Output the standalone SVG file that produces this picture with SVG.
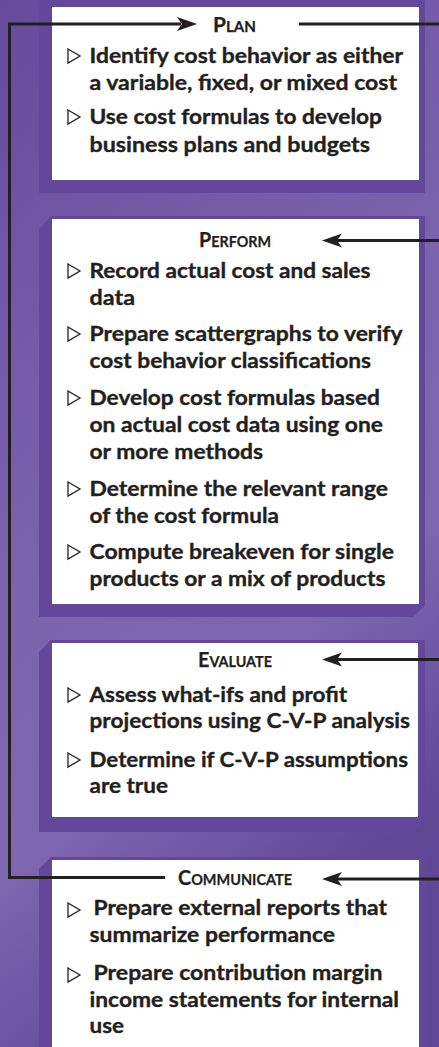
<svg xmlns="http://www.w3.org/2000/svg" xmlns:xlink="http://www.w3.org/1999/xlink" width="439" height="1047" viewBox="0 0 439 1047">
<style>
.frame{fill:#62479b}
.box{fill:#ffffff}
.hd{font-family:Lato,"Liberation Sans","DejaVu Sans",sans-serif;font-weight:700;fill:#231f20;stroke:#231f20;stroke-width:0.25;text-anchor:middle}
.tx{font-family:Lato,"Liberation Sans","DejaVu Sans",sans-serif;font-weight:700;font-size:21px;fill:#231f20;stroke:#231f20;stroke-width:0.35}
.ln{fill:none;stroke:#231f20;stroke-width:3}
.ah{fill:#231f20}
.big{font-size:20px}
.sm{font-size:14.5px}
</style>
<defs>
<linearGradient id="bg" x1="0" y1="0" x2="0.35" y2="1">
<stop offset="0" stop-color="#664a9c"/>
<stop offset="0.45" stop-color="#7a61ac"/>
<stop offset="0.75" stop-color="#7e67b0"/>
<stop offset="1" stop-color="#5f4796"/>
</linearGradient>
<polygon id="bul" points="0,0 12,7 0,14" fill="#ffffff" stroke="#231f20" stroke-width="1.3" stroke-linejoin="miter"/>
</defs>
<rect x="0" y="0" width="439" height="1047" fill="url(#bg)"/>

<g id="plan">
<rect class="frame" x="39" y="0" width="386" height="193"/>
<rect class="box" x="52" y="7" width="367" height="173"/>
<text class="hd" x="234.5" y="32" textLength="43" lengthAdjust="spacingAndGlyphs"><tspan class="big">P</tspan><tspan class="sm">LAN</tspan></text>
<use xlink:href="#bul" x="68" y="49"/>
<text class="tx" x="89.5" y="63" textLength="313.5" lengthAdjust="spacingAndGlyphs">Identify cost behavior as either</text>
<text class="tx" x="89.5" y="90" textLength="307.5" lengthAdjust="spacingAndGlyphs">a variable, fixed, or mixed cost</text>
<use xlink:href="#bul" x="68" y="110"/>
<text class="tx" x="89.5" y="124" textLength="292.5" lengthAdjust="spacingAndGlyphs">Use cost formulas to develop</text>
<text class="tx" x="89.5" y="152" textLength="280.5" lengthAdjust="spacingAndGlyphs">business plans and budgets</text>
</g>

<g id="perform">
<polygon class="frame" points="39,229 51,216 425,216 425,605 413,617 39,617"/>
<rect class="box" x="52" y="219" width="367" height="385"/>
<text class="hd" x="235" y="247" textLength="72" lengthAdjust="spacingAndGlyphs"><tspan class="big">P</tspan><tspan class="sm">ERFORM</tspan></text>
<use xlink:href="#bul" x="68" y="264"/>
<text class="tx" x="89.5" y="278" textLength="281" lengthAdjust="spacingAndGlyphs">Record actual cost and sales</text>
<text class="tx" x="89.5" y="305" textLength="45.5" lengthAdjust="spacingAndGlyphs">data</text>
<use xlink:href="#bul" x="68" y="327"/>
<text class="tx" x="89.5" y="341" textLength="313" lengthAdjust="spacingAndGlyphs">Prepare scattergraphs to verify</text>
<text class="tx" x="89.5" y="368" textLength="281.5" lengthAdjust="spacingAndGlyphs">cost behavior classifications</text>
<use xlink:href="#bul" x="68" y="391"/>
<text class="tx" x="89.5" y="405" textLength="290.5" lengthAdjust="spacingAndGlyphs">Develop cost formulas based</text>
<text class="tx" x="89.5" y="432" textLength="293.5" lengthAdjust="spacingAndGlyphs">on actual cost data using one</text>
<text class="tx" x="89.5" y="459" textLength="173.5" lengthAdjust="spacingAndGlyphs">or more methods</text>
<use xlink:href="#bul" x="68" y="482"/>
<text class="tx" x="89.5" y="496" textLength="298.5" lengthAdjust="spacingAndGlyphs">Determine the relevant range</text>
<text class="tx" x="89.5" y="523" textLength="189.5" lengthAdjust="spacingAndGlyphs">of the cost formula</text>
<use xlink:href="#bul" x="68" y="545"/>
<text class="tx" x="89.5" y="559" textLength="304.5" lengthAdjust="spacingAndGlyphs">Compute breakeven for single</text>
<text class="tx" x="89.5" y="586" textLength="296" lengthAdjust="spacingAndGlyphs">products or a mix of products</text>
</g>

<g id="evaluate">
<polygon class="frame" points="39,652 51,640 425,640 425,820 413,832 39,832"/>
<rect class="box" x="52" y="643" width="366" height="174"/>
<text class="hd" x="235" y="667" textLength="74" lengthAdjust="spacingAndGlyphs"><tspan class="big">E</tspan><tspan class="sm">VALUATE</tspan></text>
<use xlink:href="#bul" x="68" y="688"/>
<text class="tx" x="89.5" y="702" textLength="257.5" lengthAdjust="spacingAndGlyphs">Assess what-ifs and profit</text>
<text class="tx" x="89.5" y="728" textLength="320.5" lengthAdjust="spacingAndGlyphs">projections using C-V-P analysis</text>
<use xlink:href="#bul" x="68" y="753"/>
<text class="tx" x="89.5" y="767" textLength="318.5" lengthAdjust="spacingAndGlyphs">Determine if C-V-P assumptions</text>
<text class="tx" x="89.5" y="793" textLength="78.5" lengthAdjust="spacingAndGlyphs">are true</text>
</g>

<g id="communicate">
<polygon class="frame" points="39,869 51,857 425,857 425,1047 39,1047"/>
<rect class="box" x="52" y="860" width="367" height="187"/>
<text class="hd" x="235" y="885" textLength="114" lengthAdjust="spacingAndGlyphs"><tspan class="big">C</tspan><tspan class="sm">OMMUNICATE</tspan></text>
<use xlink:href="#bul" x="68" y="903"/>
<text class="tx" x="93.5" y="915" textLength="293.5" lengthAdjust="spacingAndGlyphs">Prepare external reports that</text>
<text class="tx" x="89.5" y="942" textLength="245.5" lengthAdjust="spacingAndGlyphs">summarize performance</text>
<use xlink:href="#bul" x="68" y="968"/>
<text class="tx" x="93.5" y="980" textLength="289" lengthAdjust="spacingAndGlyphs">Prepare contribution margin</text>
<text class="tx" x="89.5" y="1007" textLength="309.5" lengthAdjust="spacingAndGlyphs">income statements for internal</text>
<text class="tx" x="89.5" y="1033" textLength="34.5" lengthAdjust="spacingAndGlyphs">use</text>
</g>

<g id="connectors">
<path class="ln" d="M165,877.5 H9.5 V24 H181"/>
<polygon class="ah" points="197,24 177,17 182,24 177,31"/>
<path class="ln" d="M299,24 H439"/>
<path class="ln" d="M439,240.5 H337"/>
<polygon class="ah" points="322,240.5 342,233.5 337,240.5 342,247.5"/>
<path class="ln" d="M439,659.5 H337"/>
<polygon class="ah" points="322,659.5 342,652.5 337,659.5 342,666.5"/>
<path class="ln" d="M439,879 H337"/>
<polygon class="ah" points="322,879 342,872 337,879 342,886"/>
</g>
</svg>
